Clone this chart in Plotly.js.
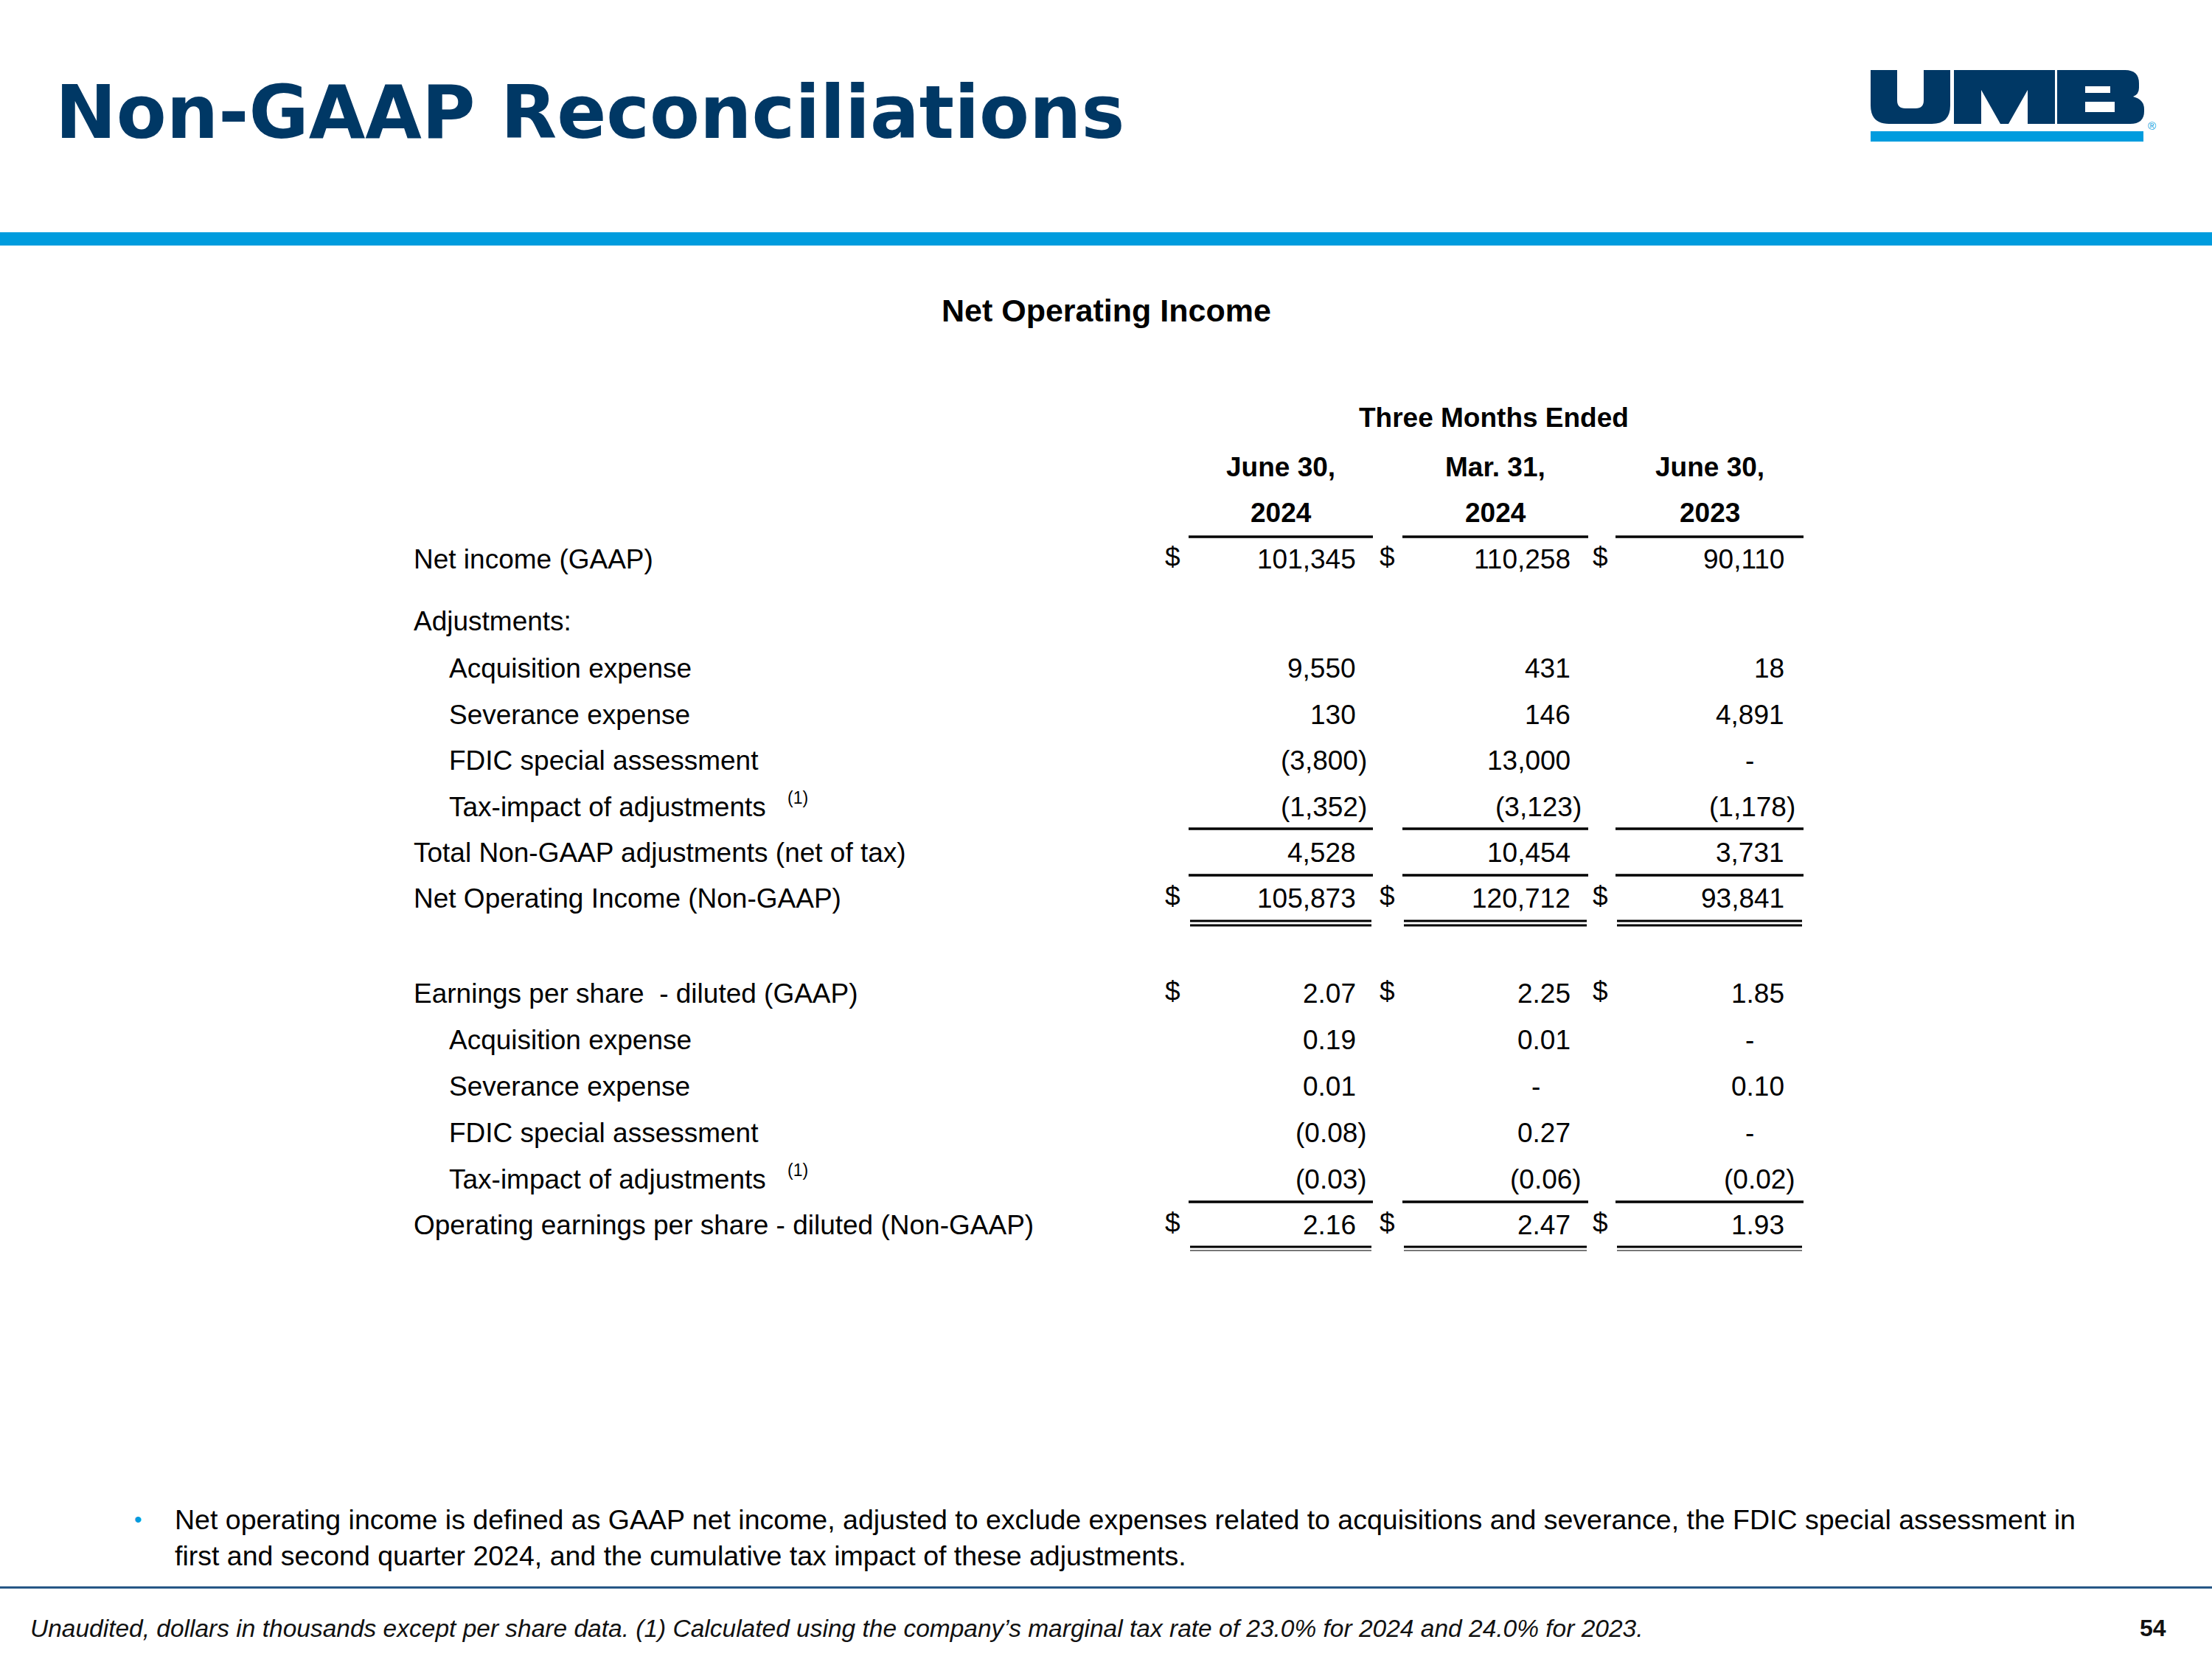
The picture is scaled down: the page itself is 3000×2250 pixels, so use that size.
<!DOCTYPE html>
<html><head><meta charset="utf-8">
<script src="https://cdn.plot.ly/plotly-3.0.1.min.js"></script>
<style>html,body{margin:0;padding:0;background:#fff;overflow:hidden}</style>
</head><body>
<div id="chart" style="width:3000px;height:2250px"></div>
<script>
// ---------------- data ----------------
const slideTitle = "Non-GAAP Reconciliations";
const tableTitle = "Net Operating Income";
const periodHeader = "Three Months Ended";
const periodLabels = ["June 30,", "Mar. 31,", "June 30,"];
const periodYears = ["2024", "2024", "2023"];
const rowLabels = [
  "Net income (GAAP)",
  "Adjustments:",
  "Acquisition expense",
  "Severance expense",
  "FDIC special assessment",
  "Tax-impact of adjustments",
  "Total Non-GAAP adjustments (net of tax)",
  "Net Operating Income (Non-GAAP)",
  "Earnings per share\u00a0 - diluted (GAAP)",
  "Acquisition expense",
  "Severance expense",
  "FDIC special assessment",
  "Tax-impact of adjustments",
  "Operating earnings per share - diluted (Non-GAAP)"
];
const rowNotes = ["", "", "", "", "", "(1)", "", "", "", "", "", "", "(1)", ""];
const jun2024 = [101345, null, 9550, 130, -3800, -1352, 4528, 105873, 2.07, 0.19, 0.01, -0.08, -0.03, 2.16];
const mar2024 = [110258, null, 431, 146, 13000, -3123, 10454, 120712, 2.25, 0.01, 0, 0.27, -0.06, 2.47];
const jun2023 = [90110, null, 18, 4891, 0, -1178, 3731, 93841, 1.85, 0, 0.10, 0, -0.02, 1.93];
const bulletLines = [
  "Net operating income is defined as GAAP net income, adjusted to exclude expenses related to acquisitions and severance, the FDIC special assessment in",
  "first and second quarter 2024, and the cumulative tax impact of these adjustments."
];
const footnote = "Unaudited, dollars in thousands except per share data. (1) Calculated using the company\u2019s marginal tax rate of 23.0% for 2024 and 24.0% for 2023.";
const pageNumber = "54";

// ---------------- layout / style ----------------
const NAVY = "#003865", BLUE = "#009CDE", INK = "#000000";
const BODY = "Liberation Sans, Arial, sans-serif";
const HEAVY = "DejaVu Sans, Liberation Sans, sans-serif";
const rowY = [758, 842, 906, 969, 1031, 1094, 1156, 1218, 1347, 1410, 1473, 1536, 1599, 1661];
const rowIndent = [0, 0, 1, 1, 1, 1, 0, 0, 0, 1, 1, 1, 1, 0];
const dollarRows = [0, 7, 8, 13];
const firstPerShareRow = 8;
const colRight = [1840, 2131, 2421];
const colDollar = [1590, 1881, 2170];
const colSpan = [[1612, 1862], [1902, 2154], [2191, 2446]];
const columns = [jun2024, mar2024, jun2023];

function fmt(v, perShare) {
  if (v === null || v === undefined) return "";
  if (v === 0) return "-";
  const a = Math.abs(v);
  const s = perShare ? a.toFixed(2) : a.toLocaleString("en-US");
  return v < 0 ? "(" + s + ")" : s;
}

const ann = [];
function font(size, opts) {
  return Object.assign({family: BODY, size: size, color: INK, weight: "normal", style: "normal"}, opts || {});
}
function txt(x, y, text, opts) {
  ann.push(Object.assign({
    x: x, y: y, xref: "x", yref: "y", text: text, showarrow: false,
    xanchor: "left", yanchor: "middle", borderpad: 0,
    font: font(37)
  }, opts || {}));
}

// title
txt(74, 152, slideTitle, {font: font(99, {family: HEAVY, color: NAVY, weight: "bold"})});
// table title and headers
txt(1500, 421, tableTitle, {xanchor: "center", font: font(43, {weight: "bold"})});
txt(2026, 566, periodHeader, {xanchor: "center", font: font(37, {weight: "bold"})});
periodLabels.forEach((p, i) => {
  const cx = (colSpan[i][0] + colSpan[i][1]) / 2;
  txt(cx, 633, p, {xanchor: "center", font: font(37, {weight: "bold"})});
  txt(cx, 695, periodYears[i], {xanchor: "center", font: font(37, {weight: "bold"})});
});

// row labels (+ footnote markers)
rowLabels.forEach((lab, r) => {
  txt(rowIndent[r] ? 608 : 560, rowY[r], lab);
  if (rowNotes[r]) txt(1067, rowY[r] - 12, rowNotes[r], {font: font(23)});
});

// values
columns.forEach((col, c) => {
  col.forEach((v, r) => {
    const s = fmt(v, r >= firstPerShareRow);
    if (!s) return;
    if (s === "-") txt(colRight[c] - 48, rowY[r], s, {xanchor: "center"});
    else if (s.charAt(0) === "(") txt(colRight[c] + 15, rowY[r], s, {xanchor: "right"});
    else txt(colRight[c], rowY[r], s, {xanchor: "right"});
  });
  dollarRows.forEach(r => txt(colDollar[c], rowY[r] - 3, "$", {xanchor: "center"}));
});

// bullet + footer
txt(187, 2060, "\u2022", {xanchor: "center", font: font(30, {color: BLUE})});
txt(236, 2061, bulletLines[0], {font: font(37.5)});
txt(236, 2110, bulletLines[1], {font: font(37.5)});
txt(40, 2208, footnote, {font: font(33.5, {color: "#111", style: "italic"})});
txt(2939, 2208, pageNumber, {xanchor: "right", font: font(32, {color: "#111", weight: "bold"})});
txt(2918, 170, "\u00ae", {xanchor: "center", font: font(15, {color: BLUE})});

// shapes
const shp = [];
function line(x0, x1, y, w, color) {
  shp.push({type: "line", xref: "x", yref: "y", x0: x0, x1: x1, y0: y, y1: y, line: {color: color || INK, width: w}});
}
function rect(x0, x1, y0, y1, color) {
  shp.push({type: "rect", xref: "x", yref: "y", x0: x0, x1: x1, y0: y0, y1: y1, line: {width: 0}, fillcolor: color});
}
function path(d, color) {
  shp.push({type: "path", xref: "x", yref: "y", path: d, line: {width: 0}, fillcolor: color});
}
rect(0, 3000, 315, 333, BLUE);                 // header band
line(0, 3000, 2153, 3, "#1C4F80");              // footer rule
colSpan.forEach(([a, b]) => {
  line(a, b, 728, 3.5);
  line(a, b, 1124, 3.5);
  line(a, b, 1187, 3.5);
  line(a + 2, b - 2, 1249, 3);
  line(a + 2, b - 2, 1255, 3);
  line(a, b, 1630, 3.5);
  line(a + 2, b - 2, 1691, 3);
  line(a + 2, b - 2, 1696, 2, "#777");
});
// UMB logo
path("M2537,95 L2573,95 L2573,136 Q2573,147 2584,147 L2598,147 Q2609,147 2609,136 L2609,95 L2645,95 L2645,143 Q2645,168 2620,168 L2562,168 Q2537,168 2537,143 Z", NAVY);
path("M2650,95 L2787,95 L2787,168 L2750,168 L2750,122 L2724,168 L2713,168 L2687,122 L2687,168 L2650,168 Z", NAVY);
path("M2790,95 L2882,95 Q2901,95 2901,113 L2901,119 Q2901,128 2893,131 Q2908,135 2908,148 L2908,151 Q2908,168 2889,168 L2790,168 Z " +
     "M2828,117 L2828,126 L2862,126 L2862,117 Z M2828,138 L2828,152 L2868,152 L2868,138 Z", NAVY);
rect(2537, 2907, 178, 192, BLUE);

const layout = {
  width: 3000, height: 2250,
  margin: {l: 0, r: 0, t: 0, b: 0},
  paper_bgcolor: "#fff", plot_bgcolor: "#fff",
  showlegend: false,
  xaxis: {range: [0, 3000], visible: false, fixedrange: true},
  yaxis: {range: [2250, 0], visible: false, fixedrange: true},
  annotations: ann,
  shapes: shp
};
const data = [{x: [0], y: [0], mode: "markers", marker: {opacity: 0}, hoverinfo: "skip", showlegend: false}];
Plotly.newPlot("chart", data, layout, {staticPlot: true, displayModeBar: false});
</script>
</body></html>
